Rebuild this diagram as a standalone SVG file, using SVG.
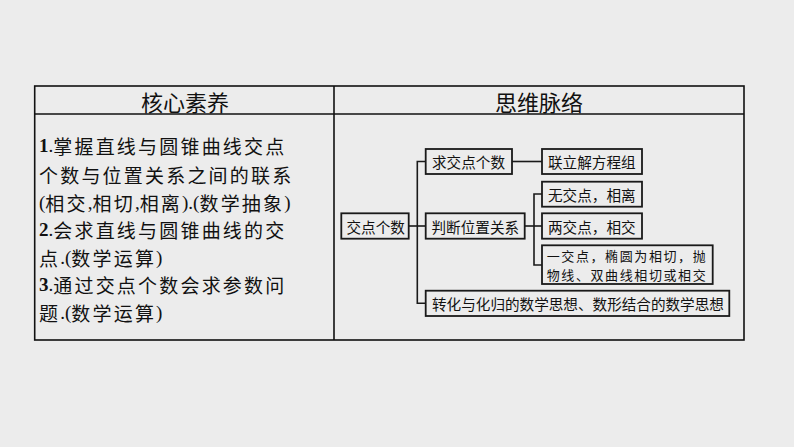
<svg xmlns="http://www.w3.org/2000/svg" width="794" height="447" viewBox="0 0 794 447">
<style>
.tbl{fill:none;stroke:#111;stroke-width:1.6}
.box{fill:none;stroke:#1a1a1a;stroke-width:1.8}
.ln{fill:none;stroke:#1a1a1a;stroke-width:1.6}
.hd{font-family:"Noto Sans CJK SC",sans-serif;font-size:22px;fill:#111;text-anchor:middle}
.bd{font-family:"Noto Sans CJK SC",sans-serif;font-size:19px;letter-spacing:2.2px;fill:#111}
.sr{font-family:"Liberation Serif","Noto Sans CJK SC",serif;letter-spacing:0}
.nm{font-family:"Liberation Serif",serif;font-weight:bold;letter-spacing:0}
.nt{font-family:"Noto Sans CJK SC",sans-serif;font-size:14.6px;fill:#111}
.nt2{font-family:"Noto Sans CJK SC",sans-serif;font-size:13px;letter-spacing:1.6px;fill:#111}
</style>
<rect width="794" height="447" fill="#ececec"/>
<g id="table">
<rect class="tbl" x="34.7" y="86" width="709.3" height="254"/>
<line class="tbl" x1="34.7" y1="114" x2="744" y2="114"/>
<line class="tbl" x1="334" y1="86" x2="334" y2="340"/>
<text class="hd" x="185" y="101" dominant-baseline="central">核心素养</text>
<text class="hd" x="539" y="101" dominant-baseline="central">思维脉络</text>
</g>
<g id="core-text" class="bd">
<text x="39" y="145" dominant-baseline="central"><tspan class="nm">1</tspan><tspan class="sr">.</tspan>掌握直线与圆锥曲线交点</text>
<text x="39" y="174" dominant-baseline="central">个数与位置关系之间的联系</text>
<text x="39" y="202" dominant-baseline="central"><tspan class="sr">(</tspan>相交<tspan class="sr">,</tspan>相切<tspan class="sr">,</tspan>相离<tspan class="sr">).(</tspan>数学抽象<tspan class="sr">)</tspan></text>
<text x="39" y="229" dominant-baseline="central"><tspan class="nm">2</tspan><tspan class="sr">.</tspan>会求直线与圆锥曲线的交</text>
<text x="39" y="257" dominant-baseline="central">点<tspan class="sr">.(</tspan>数学运算<tspan class="sr">)</tspan></text>
<text x="39" y="284" dominant-baseline="central"><tspan class="nm">3</tspan><tspan class="sr">.</tspan>通过交点个数会求参数问</text>
<text x="39" y="312" dominant-baseline="central">题<tspan class="sr">.(</tspan>数学运算<tspan class="sr">)</tspan></text>
</g>
<g id="connectors">
<line class="ln" x1="408.7" y1="226" x2="417.3" y2="226"/>
<polyline class="ln" points="425.7,161.5 417.3,161.5 417.3,303.3 425.7,303.3"/>
<line class="ln" x1="417.3" y1="226" x2="425.7" y2="226"/>
<line class="ln" x1="512" y1="161.5" x2="542" y2="161.5"/>
<line class="ln" x1="524.7" y1="226" x2="542" y2="226"/>
<polyline class="ln" points="542,194 534,194 534,265 542,265"/>
</g>
<g id="n-jdgs"><rect class="box" x="341.3" y="213.3" width="67.4" height="25.4"/><text class="nt" x="346.5" y="226" dominant-baseline="central">交点个数</text></g>
<g id="n-qjdgs"><rect class="box" x="425.7" y="149" width="86.3" height="25"/><text class="nt" x="432" y="161.5" dominant-baseline="central">求交点个数</text></g>
<g id="n-pdwzgx"><rect class="box" x="425.7" y="213.3" width="99" height="25.4"/><text class="nt" x="431.5" y="226" dominant-baseline="central">判断位置关系</text></g>
<g id="n-zh"><rect class="box" x="425.7" y="290.7" width="303.6" height="25.3"/><text class="nt" x="432" y="303.3" dominant-baseline="central">转化与化归的数学思想、数形结合的数学思想</text></g>
<g id="n-lljfcz"><rect class="box" x="542" y="149" width="100" height="25"/><text class="nt" x="548" y="161.5" dominant-baseline="central">联立解方程组</text></g>
<g id="n-wjd"><rect class="box" x="542" y="181.7" width="100" height="25"/><text class="nt" x="548" y="194" dominant-baseline="central">无交点，相离</text></g>
<g id="n-ljd"><rect class="box" x="542" y="213.3" width="100" height="25.4"/><text class="nt" x="548" y="226" dominant-baseline="central">两交点，相交</text></g>
<g id="n-yjd"><rect class="box" x="542" y="245.3" width="170.7" height="38.7"/><text class="nt2" x="546.7" y="255.3" dominant-baseline="central">一交点，椭圆为相切，抛</text><text class="nt2" x="546.7" y="274.5" dominant-baseline="central">物线、双曲线相切或相交</text></g>
</svg>
